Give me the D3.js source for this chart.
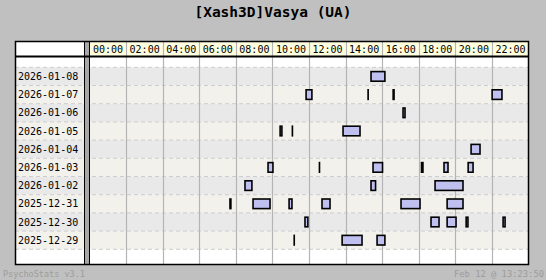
<!DOCTYPE html>
<html>
<head>
<meta charset="utf-8">
<script src="https://cdn.jsdelivr.net/npm/d3@7"></script>
<style>
  body { margin: 0; background: #c0c0c0; }
  text { font-family: "DejaVu Sans Mono", monospace; }
</style>
</head>
<body>
<div id="chart"></div>
<script>
var title = "[Xash3D]Vasya (UA)";
var footerLeft = "PsychoStats v3.1";
var footerRight = "Feb 12 @ 13:23:50";

var dates = ["2026-01-08", "2026-01-07", "2026-01-06", "2026-01-05", "2026-01-04",
             "2026-01-03", "2026-01-02", "2025-12-31", "2025-12-30", "2025-12-29"];

var hourTicks = ["00:00", "02:00", "04:00", "06:00", "08:00", "10:00",
                 "12:00", "14:00", "16:00", "18:00", "20:00", "22:00"];

// [date, start hour, end hour]
var sessions = [
  ["2026-01-08", 15.35, 16.19],
  ["2026-01-07", 11.80, 12.20],
  ["2026-01-07", 15.19, 15.19],
  ["2026-01-07", 16.56, 16.69],
  ["2026-01-07", 21.97, 22.59],
  ["2026-01-06", 17.10, 17.29],
  ["2026-01-05", 10.38, 10.56],
  ["2026-01-05", 11.05, 11.09],
  ["2026-01-05", 13.82, 14.83],
  ["2026-01-04", 20.82, 21.39],
  ["2026-01-03", 9.72, 10.07],
  ["2026-01-03", 12.53, 12.57],
  ["2026-01-03", 15.46, 16.06],
  ["2026-01-03", 18.11, 18.27],
  ["2026-01-03", 19.34, 19.64],
  ["2026-01-03", 20.66, 21.01],
  ["2026-01-02", 8.46, 8.92],
  ["2026-01-02", 15.35, 15.68],
  ["2026-01-02", 18.85, 20.46],
  ["2025-12-31", 7.64, 7.77],
  ["2025-12-31", 8.90, 9.91],
  ["2025-12-31", 10.87, 11.11],
  ["2025-12-31", 12.67, 13.19],
  ["2025-12-31", 16.99, 18.11],
  ["2025-12-31", 19.51, 20.46],
  ["2025-12-30", 11.74, 11.98],
  ["2025-12-30", 18.63, 19.15],
  ["2025-12-30", 19.51, 20.08],
  ["2025-12-30", 20.55, 20.73],
  ["2025-12-30", 22.57, 22.76],
  ["2025-12-29", 11.15, 11.15],
  ["2025-12-29", 13.77, 14.94],
  ["2025-12-29", 15.68, 16.19]
];

var width = 546, height = 280;
var plotLeft = 15, plotRight = 528.5, plotTop = 41, plotBottom = 264;
var labelRight = 84, headerBottom = 56.5;

var svg = d3.select("#chart").append("svg")
  .attr("width", width)
  .attr("height", height);

svg.append("rect").attr("width", width).attr("height", height).attr("fill", "#c0c0c0");

var x = d3.scaleLinear().domain([0, 24]).range([89.5, plotRight]);
var y = d3.scaleBand().domain(dates).range([67.3, 249.3]);

// title
svg.append("text")
  .attr("x", width / 2).attr("y", 17)
  .attr("text-anchor", "middle")
  .attr("font-size", "14.5px").attr("font-weight", "bold")
  .attr("fill", "#000")
  .text(title);

// plot area background
svg.append("rect")
  .attr("x", plotLeft).attr("y", plotTop)
  .attr("width", plotRight - plotLeft).attr("height", plotBottom - plotTop)
  .attr("fill", "#fff");

// header cells
svg.selectAll(".hcell")
  .data(hourTicks)
  .enter()
  .append("rect")
  .attr("class", "hcell")
  .attr("x", function (d, i) { return x(i * 2); })
  .attr("y", plotTop)
  .attr("width", x(2) - x(0))
  .attr("height", headerBottom - plotTop)
  .attr("fill", "#ffffe0");

// row backgrounds
svg.selectAll(".row")
  .data(dates)
  .enter()
  .append("rect")
  .attr("class", "row")
  .attr("x", plotLeft).attr("y", function (d) { return y(d); })
  .attr("width", plotRight - plotLeft).attr("height", y.bandwidth())
  .attr("fill", function (d, i) { return i % 2 ? "#f3f1ec" : "#e9e9e9"; });

// dashed row boundaries
var bounds = dates.map(function (d) { return y(d); }).concat([y.range()[1]]);
svg.selectAll(".rowline")
  .data(bounds)
  .enter()
  .append("line")
  .attr("x1", plotLeft).attr("x2", plotRight)
  .attr("y1", function (d) { return d; }).attr("y2", function (d) { return d; })
  .attr("stroke", "#cdcdcd")
  .attr("stroke-dasharray", "4,3");

// vertical grid
svg.selectAll(".vgrid")
  .data(d3.range(1, 12))
  .enter()
  .append("line")
  .attr("x1", function (d) { return Math.round(x(d * 2)) + 0.5; })
  .attr("x2", function (d) { return Math.round(x(d * 2)) + 0.5; })
  .attr("y1", plotTop).attr("y2", plotBottom)
  .attr("stroke", "#b4b4b4")
  .attr("stroke-width", 1.2);

// header labels
svg.selectAll(".htext")
  .data(hourTicks)
  .enter()
  .append("text")
  .attr("x", function (d, i) { return x(i * 2) + 3.5; })
  .attr("y", 52.5)
  .attr("font-size", "10px")
  .attr("fill", "#000")
  .text(function (d) { return d; });

// date labels
svg.selectAll(".dtext")
  .data(dates)
  .enter()
  .append("text")
  .attr("x", 18)
  .attr("y", function (d) { return y(d) + y.bandwidth() / 2 + 3.5; })
  .attr("font-size", "10px")
  .attr("fill", "#000")
  .text(function (d) { return d; });

// sessions (very short ones collapse to a black tick)
svg.selectAll(".bar")
  .data(sessions)
  .enter()
  .append("rect")
  .attr("class", "bar")
  .attr("x", function (d) { return x(d[1]) + 0.75; })
  .attr("width", function (d) { return Math.max(0.05, x(d[2]) - x(d[1]) - 1.5); })
  .attr("y", function (d) { return y(d[0]) + y.bandwidth() / 2 - 4.8; })
  .attr("height", 9.6)
  .attr("fill", "#c0c0f0")
  .attr("stroke", "#000")
  .attr("stroke-width", 1.6);

// label column separator
svg.append("rect")
  .attr("x", labelRight).attr("y", plotTop)
  .attr("width", 5.5).attr("height", plotBottom - plotTop)
  .attr("fill", "#a8a8a8");
svg.append("line")
  .attr("x1", labelRight + 0.5).attr("x2", labelRight + 0.5)
  .attr("y1", plotTop).attr("y2", plotBottom)
  .attr("stroke", "#000");
svg.append("line")
  .attr("x1", 89.5).attr("x2", 89.5)
  .attr("y1", plotTop).attr("y2", plotBottom)
  .attr("stroke", "#000");

// header bottom line
svg.append("line")
  .attr("x1", plotLeft).attr("x2", plotRight)
  .attr("y1", headerBottom).attr("y2", headerBottom)
  .attr("stroke", "#000").attr("stroke-width", 2);

// outer border
svg.append("rect")
  .attr("x", plotLeft + 0.5).attr("y", plotTop + 0.5)
  .attr("width", plotRight - plotLeft - 0.5).attr("height", plotBottom - plotTop)
  .attr("fill", "none")
  .attr("stroke", "#000").attr("stroke-width", 1.5);

// footer
svg.append("text")
  .attr("x", 3).attr("y", 277)
  .attr("font-size", "8.5px").attr("fill", "#9c9c9c")
  .text(footerLeft);
svg.append("text")
  .attr("x", 544).attr("y", 277)
  .attr("text-anchor", "end")
  .attr("font-size", "8.8px").attr("fill", "#9c9c9c")
  .text(footerRight);
</script>
</body>
</html>
